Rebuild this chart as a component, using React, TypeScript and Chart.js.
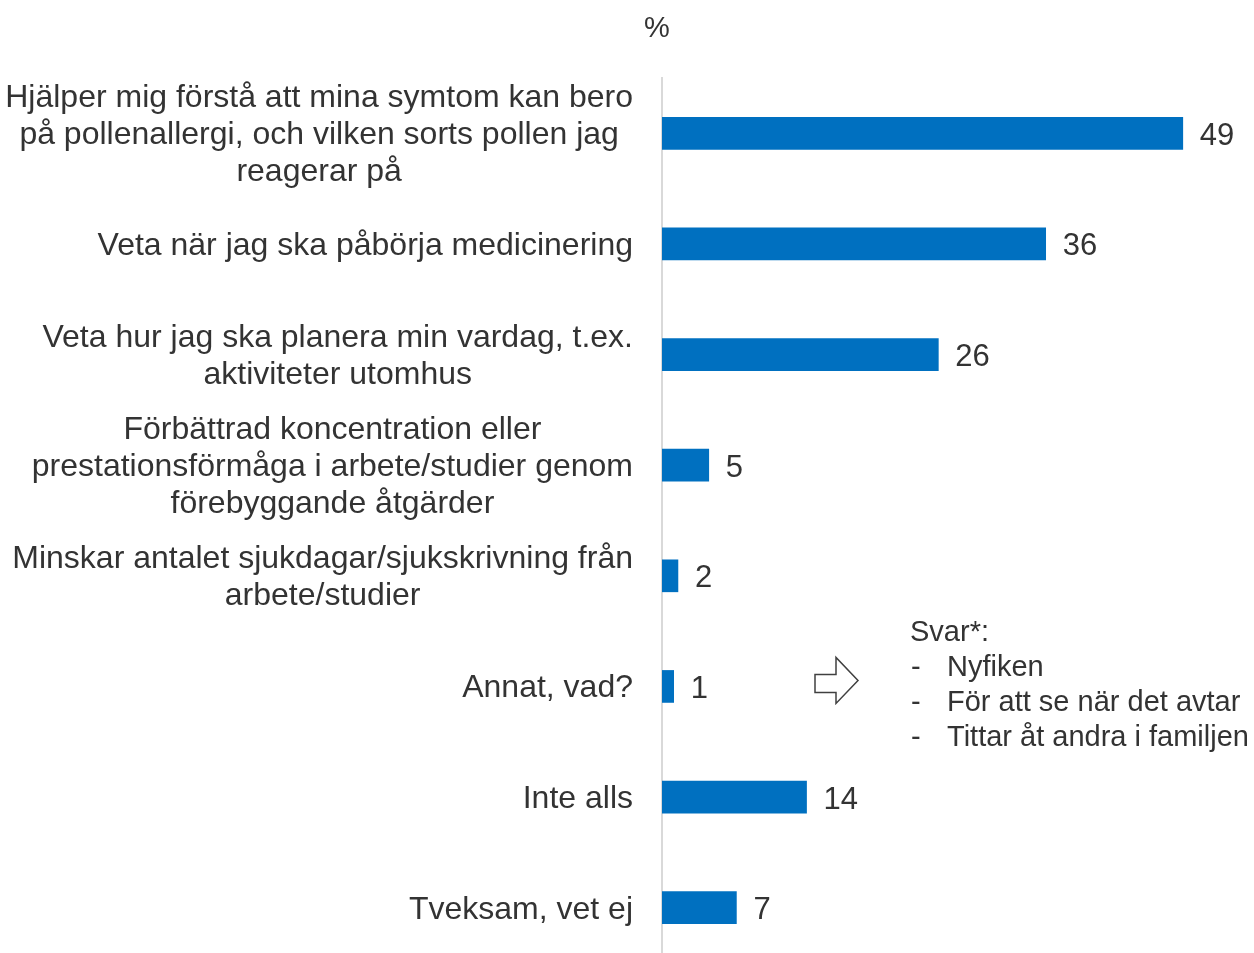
import React, { useEffect, useRef } from "react";
import { Chart, registerables } from "chart.js";

Chart.register(...registerables);

const categories: string[][] = [
  ["Hjälper mig förstå att mina symtom kan bero", "på pollenallergi, och vilken sorts pollen jag", "reagerar på"],
  ["Veta när jag ska påbörja medicinering"],
  ["Veta hur jag ska planera min vardag, t.ex.", "aktiviteter utomhus"],
  ["Förbättrad koncentration eller", "prestationsförmåga i arbete/studier genom", "förebyggande åtgärder"],
  ["Minskar antalet sjukdagar/sjukskrivning från", "arbete/studier"],
  ["Annat, vad?"],
  ["Inte alls"],
  ["Tveksam, vet ej"],
];
const values: number[] = [49, 36.1, 26, 4.4, 1.5, 1.1, 13.6, 7];
const valueLabels: string[] = ["49", "36", "26", "5", "2", "1", "14", "7"];
const unitLabel = "%";
const noteTitle = "Svar*:";
const noteItems: string[] = ["Nyfiken", "För att se när det avtar", "Tittar åt andra i familjen"];
const noteCategoryIndex = 5;

const FONT = '"Liberation Sans", Arial, sans-serif';
const TEXT = "#333333";

const labelsPlugin = {
  id: "customLabels",
  afterDraw(chart: any) {
    const ctx = chart.ctx as CanvasRenderingContext2D;
    const ys = chart.scales.y;
    const area = chart.chartArea;
    ctx.save();
    ctx.fillStyle = TEXT;
    ctx.textBaseline = "middle";

    // category labels
    ctx.font = `32px ${FONT}`;
    const right = area.left - 29;
    const lh = 36.8;
    categories.forEach((lines, i) => {
      const cy = ys.getPixelForValue(i) + 2;
      const maxW = Math.max(...lines.map((l) => ctx.measureText(l).width));
      const cx = right - maxW / 2;
      ctx.textAlign = "center";
      lines.forEach((l, j) => {
        ctx.fillText(l, cx, cy + (j - (lines.length - 1) / 2) * lh);
      });
    });

    // value labels
    const meta = chart.getDatasetMeta(0);
    ctx.font = `31px ${FONT}`;
    ctx.textAlign = "left";
    meta.data.forEach((bar: any, i: number) => {
      ctx.fillText(valueLabels[i], bar.x + 17, bar.y + 3);
    });

    // unit
    ctx.textAlign = "center";
    ctx.font = `29px ${FONT}`;
    ctx.fillText(unitLabel, area.left - 5, area.top - 49);

    // note
    const ny = ys.getPixelForValue(noteCategoryIndex);
    const nx = area.left + 248;
    ctx.textAlign = "left";
    ctx.font = `29px ${FONT}`;
    ctx.fillText(noteTitle, nx, ny - 53);
    noteItems.forEach((t, k) => {
      const yy = ny - 18 + k * 35;
      ctx.fillText("-", nx + 1, yy);
      ctx.fillText(t, nx + 37, yy);
    });

    // hollow arrow
    const ax = area.left + 153;
    ctx.beginPath();
    ctx.moveTo(ax, ny - 12);
    ctx.lineTo(ax + 21, ny - 12);
    ctx.lineTo(ax + 21, ny - 29);
    ctx.lineTo(ax + 43, ny - 6);
    ctx.lineTo(ax + 21, ny + 17);
    ctx.lineTo(ax + 21, ny + 6);
    ctx.lineTo(ax, ny + 6);
    ctx.closePath();
    ctx.strokeStyle = "#404040";
    ctx.lineWidth = 1.5;
    ctx.stroke();

    ctx.restore();
  },
};

export default function App() {
  const ref = useRef<HTMLCanvasElement | null>(null);
  useEffect(() => {
    if (!ref.current) return;
    const chart = new Chart(ref.current, {
      type: "bar",
      data: {
        labels: categories.map((c) => c.join(" ")),
        datasets: [
          {
            data: values,
            backgroundColor: "#0070C0",
            barThickness: 32,
          },
        ],
      },
      options: {
        indexAxis: "y",
        responsive: false,
        animation: false,
        layout: { padding: { top: 78, left: 0, right: 0, bottom: 0 } },
        plugins: {
          legend: { display: false },
          tooltip: { enabled: false },
          title: { display: false },
        },
        scales: {
          x: { display: false, min: 0, max: 55.7 },
          y: {
            ticks: { display: false },
            grid: { display: false },
            border: { display: true, color: "#d9d9d9", width: 2 },
            afterFit: (s: any) => {
              s.width = 662;
            },
          },
        },
      } as any,
      plugins: [labelsPlugin],
    });
    return () => chart.destroy();
  }, []);
  return (
    <div
      style={{
        position: "absolute",
        left: 0,
        top: 0,
        width: 1254,
        height: 953,
        overflow: "hidden",
        background: "#fff",
      }}
    >
      <canvas ref={ref} width={1254} height={963} style={{ display: "block" }} />
    </div>
  );
}
